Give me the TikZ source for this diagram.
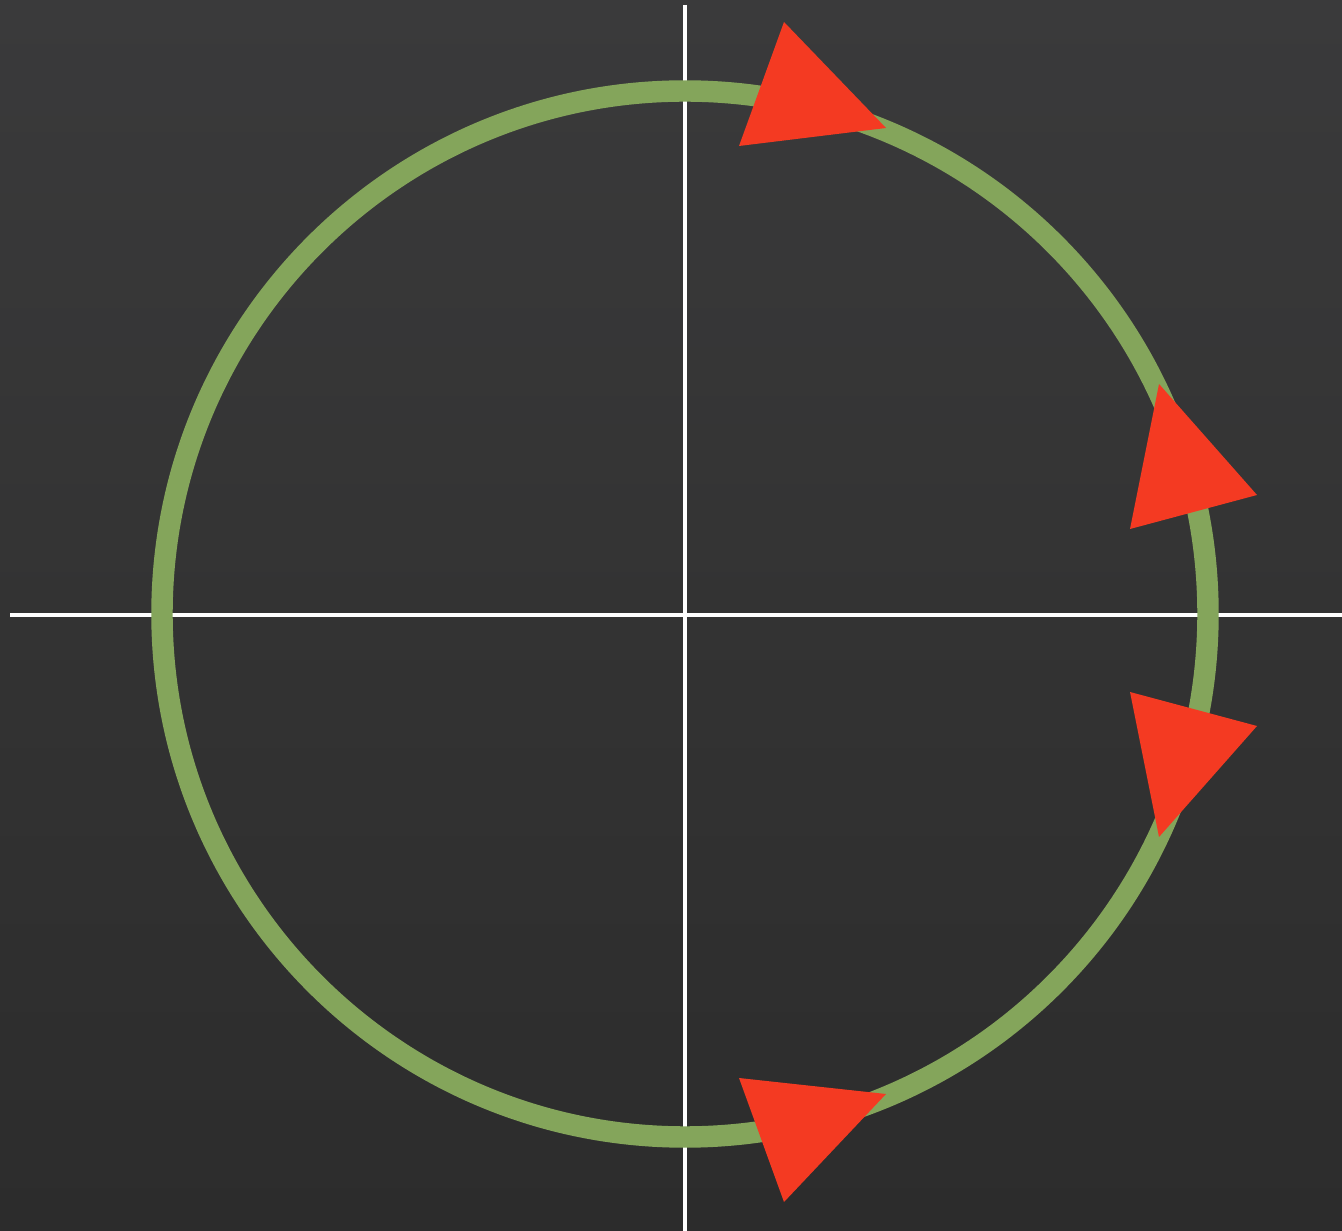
\documentclass[tikz,border=0pt]{standalone}
\usepackage{xcolor}
\usepackage{tikz}
\definecolor{cbboard}{HTML}{333333}
\definecolor{cbtop}{HTML}{3A3A3B}
\definecolor{cbbot}{HTML}{2C2C2C}
\definecolor{cbgreen}{HTML}{84A55B}
\definecolor{cbred}{HTML}{F43A22}
\tikzset{
  caxis/.style={draw=white, line width=1.2pt},
  cring/.style={draw=cbgreen, line width=6.1pt},
  ctri/.style={fill=cbred, draw=none}
}
\begin{document}
\begin{tikzpicture}[x=0.01cm, y=-0.01cm]
  % board
  \shade[top color=cbtop, bottom color=cbbot, middle color=cbboard] (0,0) rectangle (1342,1231);
  \useasboundingbox (0,0) rectangle (1342,1231);
  % axes
  \coordinate (o) at (685,614);
  \coordinate (xl) at (10,615);\coordinate (xr) at (1342,615);
  \coordinate (yt) at (685,5);\coordinate (yb) at (685,1231);
  \path[caxis] (xl)--(xr) (yt)--(yb);
  % ring
  \path[cring] (o) circle[radius=523];
  % marks
  \path[ctri] (784,22)--(886,128)--(739,146)--cycle;
  \path[ctri] (1159,384)--(1257,495)--(1130,529)--cycle;
  \path[ctri] (1130,692)--(1257,726)--(1159,837)--cycle;
  \path[ctri] (739,1078)--(886,1094)--(784,1202)--cycle;
\end{tikzpicture}
\end{document}
